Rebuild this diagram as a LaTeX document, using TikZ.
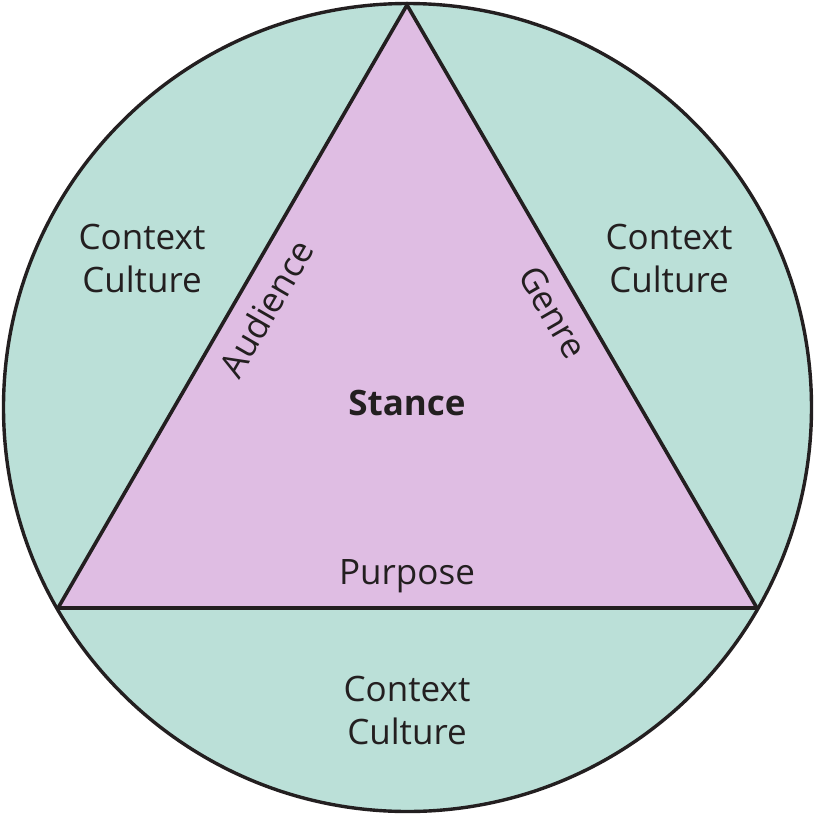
\documentclass[tikz,border=0pt]{standalone}
\usepackage{fontspec}
\setmainfont{Open Sans}
\definecolor{teal}{HTML}{BBE0D8}
\definecolor{lilac}{HTML}{DFBDE3}
\definecolor{ink}{HTML}{231F20}
\begin{document}
\begin{tikzpicture}[x=1pt,y=-1pt,
  edge/.style={draw=ink,line width=3.6pt,line join=miter},
  lbl/.style={font=\fontsize{35}{43}\selectfont,text=ink,align=center,inner sep=0pt}]
\useasboundingbox (0,0) rectangle (815,815);
\node[circle,minimum size=808pt,fill=teal,draw=ink,line width=3.4pt,inner sep=0pt] (circ) at (407.5,407.5) {};
\coordinate (T) at (407,5);
\coordinate (L) at (58,608);
\coordinate (R) at (757,608);
\fill[lilac] (T) -- (L) -- (R) -- cycle;
\draw[edge] (L) -- (T) -- (R);
\draw[edge] (L) -- (R);
\node[lbl] (cl) at (142,258) {Context\\Culture};
\node[lbl] (cr) at (669,258) {Context\\Culture};
\node[lbl] (cb) at (407,710) {Context\\Culture};
\node[lbl,rotate=60] (aud) at (266,308) {Audience};
\node[lbl,rotate=-60] (gen) at (553,312) {Genre};
\node[lbl,font=\fontsize{35}{43}\selectfont\bfseries] (st) at (407,403) {Stance};
\node[lbl] (pur) at (407,576) {Purpose};
\end{tikzpicture}
\end{document}
